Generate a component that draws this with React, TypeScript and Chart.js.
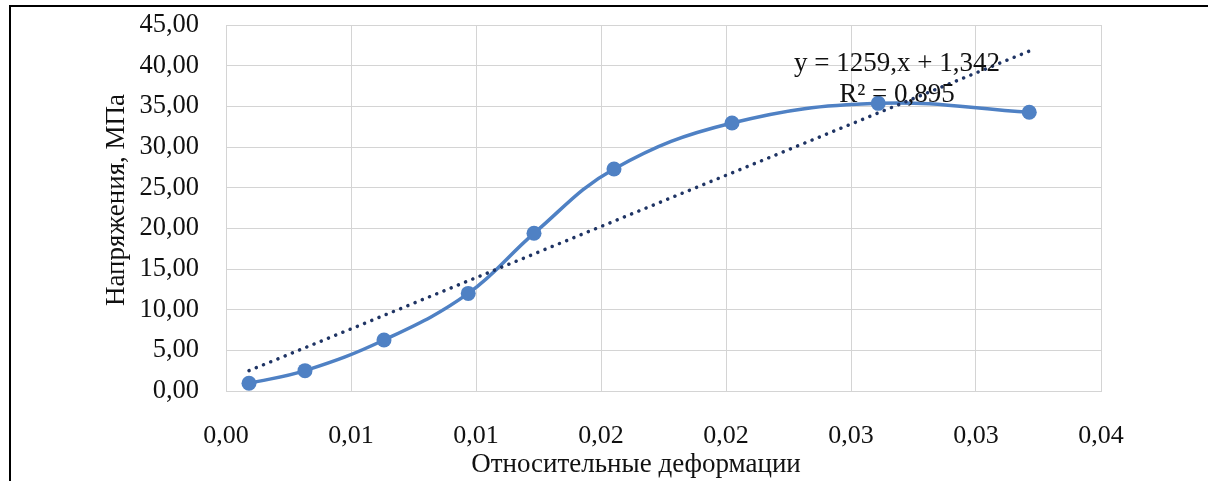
import React, { useEffect, useRef } from 'react';
import { Chart, registerables } from 'chart.js';

Chart.register(...registerables);

// Data
const strainValues = [0.00092, 0.00316, 0.00632, 0.00969, 0.01232, 0.01552, 0.02024, 0.02609, 0.03213];
const stressValues = [0.95, 2.5, 6.27, 12.0, 19.39, 27.3, 32.95, 35.37, 34.27];
const trendSlope = 1259;
const trendIntercept = 1.342;
const trendLabelLines = ['y = 1259,x + 1,342', 'R² = 0,895'];
const xTickLabels = ['0,00', '0,01', '0,01', '0,02', '0,02', '0,03', '0,03', '0,04'];
const yTickLabels = ['0,00', '5,00', '10,00', '15,00', '20,00', '25,00', '30,00', '35,00', '40,00', '45,00'];
const xAxisTitle = 'Относительные деформации';
const yAxisTitle = 'Напряжения, МПа';

const FONT = '"Liberation Serif", "Times New Roman", serif';

export default function App() {
  const canvasRef = useRef<HTMLCanvasElement | null>(null);

  useEffect(() => {
    const canvas = canvasRef.current;
    if (!canvas) return;

    const mainPoints = strainValues.map((x, i) => ({ x, y: stressValues[i] }));
    const xFirst = strainValues[0];
    const xLast = strainValues[strainValues.length - 1];
    const trendPoints = [
      { x: xFirst, y: trendSlope * xFirst + trendIntercept },
      { x: xLast, y: trendSlope * xLast + trendIntercept },
    ];

    const textPlugin = {
      id: 'chartTexts',
      afterDatasetsDraw(chart: any) {
        const { ctx, scales, chartArea } = chart;
        ctx.save();
        ctx.fillStyle = '#111111';
        ctx.textAlign = 'center';
        ctx.textBaseline = 'middle';
        // trendline equation
        ctx.font = `27px ${FONT}`;
        const cx = scales.x.getPixelForValue(0.02684);
        ctx.fillText(trendLabelLines[0], cx, scales.y.getPixelForValue(40.2));
        ctx.fillText(trendLabelLines[1], cx, scales.y.getPixelForValue(36.4));
        // axis titles
        ctx.font = `27px ${FONT}`;
        ctx.fillText(xAxisTitle, chartArea.left + 410, chartArea.bottom + 74);
        ctx.translate(chartArea.left - 109, chartArea.top + 175);
        ctx.rotate(-Math.PI / 2);
        ctx.fillText(yAxisTitle, 0, 0);
        ctx.restore();
      },
    };

    const chart = new Chart(canvas, {
      type: 'scatter',
      data: {
        datasets: [
          {
            label: 'Линейная',
            data: trendPoints,
            showLine: true,
            borderColor: '#1f3464',
            borderWidth: 3.5,
            borderDash: [0.1, 7.7],
            borderCapStyle: 'round',
            pointRadius: 0,
            order: 0,
          },
          {
            label: 'Напряжения',
            data: mainPoints,
            showLine: true,
            borderColor: '#4f81c4',
            backgroundColor: '#4f81c4',
            borderWidth: 3.5,
            tension: 0.4,
            pointRadius: 7.5,
            pointBorderWidth: 0,
            pointBackgroundColor: '#4f81c4',
            order: 1,
          },
        ],
      },
      options: {
        animation: false,
        responsive: false,
        devicePixelRatio: 1,
        layout: { padding: { top: 25, right: 107, bottom: 0, left: 0 } },
        plugins: {
          legend: { display: false },
          tooltip: { enabled: false },
        },
        scales: {
          x: {
            type: 'linear',
            min: 0,
            max: 0.035,
            afterFit: (scale: any) => {
              scale.height = 90;
              scale.paddingLeft = 0;
              scale.paddingRight = 0;
            },
            ticks: {
              stepSize: 0.005,
              padding: 30,
              color: '#111111',
              font: { family: FONT, size: 26 },
              callback: (_v: any, index: number) => xTickLabels[index],
            },
            grid: { color: '#d4d4d4', lineWidth: 1, drawTicks: false },
            border: { display: true, color: '#d4d4d4' },
            title: { display: false, text: xAxisTitle },
          },
          y: {
            type: 'linear',
            min: 0,
            max: 45,
            afterFit: (scale: any) => {
              scale.width = 226;
              scale.paddingTop = 0;
              scale.paddingBottom = 0;
            },
            ticks: {
              stepSize: 5,
              padding: 27,
              color: '#111111',
              font: { family: FONT, size: 26.5 },
              callback: (_v: any, index: number) => yTickLabels[index],
            },
            grid: { color: '#d4d4d4', lineWidth: 1, drawTicks: false },
            border: { display: true, color: '#d4d4d4' },
            title: { display: false, text: yAxisTitle },
          },
        },
      },
      plugins: [textPlugin],
    });

    return () => {
      chart.destroy();
    };
  }, []);

  return (
    <div style={{ position: 'fixed', left: 0, top: 0, width: 1208, height: 481, background: '#ffffff', overflow: 'hidden' }}>
      <div style={{ position: 'absolute', left: 9, top: 5, width: 1199, height: 2, background: '#000000' }} />
      <div style={{ position: 'absolute', left: 9, top: 5, width: 2, height: 476, background: '#000000' }} />
      <canvas ref={canvasRef} width={1208} height={481} style={{ position: 'absolute', left: 0, top: 0 }} />
    </div>
  );
}
